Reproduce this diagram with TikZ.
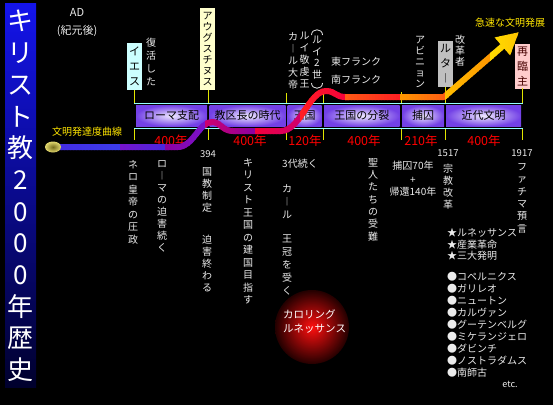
\documentclass[tikz,border=0pt]{standalone}
\usepackage{fontspec}
\setmainfont{Noto Sans CJK JP}
\usetikzlibrary{arrows.meta}
\definecolor{wt}{RGB}{235,235,235}
\definecolor{cyanbox}{RGB}{204,255,255}
\definecolor{yelbox}{RGB}{255,255,204}
\definecolor{graybox}{RGB}{192,192,192}
\definecolor{pinkbox}{RGB}{255,204,204}
\definecolor{tickyel}{RGB}{225,230,0}
\definecolor{rowline}{RGB}{150,255,255}
\definecolor{lbl}{RGB}{255,230,0}
\definecolor{k0}{RGB}{60,60,235}
\definecolor{k1}{RGB}{70,40,225}
\definecolor{k2}{RGB}{120,20,205}
\definecolor{k3}{RGB}{140,0,160}
\definecolor{k4}{RGB}{205,0,110}
\definecolor{k5}{RGB}{245,0,60}
\definecolor{k6}{RGB}{255,30,35}
\definecolor{k7}{RGB}{255,90,20}
\definecolor{k8}{RGB}{255,150,0}
\definecolor{k9}{RGB}{255,190,0}
\definecolor{k10}{RGB}{255,220,0}
\begin{document}
\begin{tikzpicture}[x=1pt,y=-1pt,
  vt/.style={align=center,inner sep=0pt,text=wt,anchor=north,font=\fontsize{10}{#1}\selectfont},
  vt/.default=12,
  ht/.style={inner sep=0pt,text=wt,font=\fontsize{10}{12}\selectfont},
  lbox/.style={align=center,inner sep=0pt,text=black,minimum width=15,font=\fontsize{#1}{15}\selectfont},
  rowbox/.style={inner sep=0pt,minimum height=21.5,outer color={rgb,255:red,115;green,65;blue,230},inner color={rgb,255:red,238;green,232;blue,255},text=black,font=\fontsize{11}{13}\selectfont},
  yrs/.style={inner sep=0pt,text=red,font=\fontsize{12.5}{14}\selectfont},
  yr/.style={inner sep=0pt,text=wt,font=\fontsize{9.5}{11}\selectfont},
  tick/.style={draw=tickyel,line width=1},
  curvep/.style={insert path={(55,147) -- (178,147) .. controls (193,147) and (199,122) .. (212,122) .. controls (221,122) and (222,131) .. (233,131) -- (281,131) .. controls (300,131) and (309,91) .. (326,91) .. controls (335,91) and (336,97) .. (345,97) -- (444,97) -- (519,32)}}
]
\useasboundingbox (0,0) rectangle (553,405);
\fill[black] (0,0) rectangle (553,405);

% title bar
\shade[top color={rgb,255:red,20;green,20;blue,235},bottom color={rgb,255:red,0;green,0;blue,45}] (5,3) rectangle (36,387);
\node[align=center,inner sep=0pt,text=white,font=\fontsize{26}{31.7}\selectfont] (title) at (20.5,196) {キ\\リ\\ス\\ト\\教\\2\\0\\0\\0\\年\\歴\\史};

\node[ht,font=\fontsize{11}{13}\selectfont] (ad) at (77,12) {AD};
\node[ht,font=\fontsize{11}{13}\selectfont] (kigen) at (77,31) {(紀元後)};

% upper labels
\node[lbox=11,fill=cyanbox,minimum height=47] (iesu) at (134.5,66.5) {イ\\エ\\ス};
\node[vt=13] (fukkatsu) at (151,38) {復\\活\\し\\た};
\node[lbox=10,fill=yelbox,minimum height=82,font=\fontsize{10}{11}\selectfont] (augu) at (207.5,49) {ア\\ウ\\グ\\ス\\チ\\ヌ\\ス};
\node[vt=12] (karl) at (293,32) {カ\\︱\\ル\\大\\帝};
\node[vt=12] (louis) at (304.5,32) {ル\\イ\\敬\\虔\\王};
\node[vt=11.5] (louis2) at (317,36) {ル\\イ\\2\\世};
\draw[wt,line width=0.8] (311.5,35) .. controls (311.5,28) and (322.5,28) .. (322.5,35);
\draw[wt,line width=0.8] (311.5,83) .. controls (311.5,90) and (322.5,90) .. (322.5,83);
\node[ht] (east) at (356,62) {東フランク};
\node[ht] (south) at (356,80) {南フランク};
\node[vt=11] (avignon) at (420,36) {ア\\ビ\\ニ\\ョ\\ン};
\node[lbox=11,fill=graybox,minimum height=46] (luther) at (445.5,64) {ル\\タ\\︱};
\node[vt=11] (kaikaku) at (460,35) {改\\革\\者};
\node[inner sep=0pt,text=lbl,font=\fontsize{10}{12}\selectfont] (rapid) at (510,23) {急速な文明発展};
\node[lbox=11,fill=pinkbox,minimum height=45,text={rgb,255:red,70;green,0;blue,0}] (sairin) at (522.5,66) {再\\臨\\主};

% ticks
\foreach \x/\t in {134/90,208/90,286/93,323/93,401/92,445.5/87,522.5/88}{
  \draw[tick] (\x,\t) -- (\x,103);
  \draw[tick] (\x,128) -- (\x,140);
}
\draw[rowline,line width=1] (134,103) -- (522.5,103);
\draw[rowline,line width=1] (134,128) -- (522.5,128);

% row boxes
\node[rowbox,minimum width=71] (rome) at (171.5,115.75) {ローマ支配};
\node[rowbox,minimum width=76] (bishop) at (247.5,115.75) {教区長の時代};
\node[rowbox,minimum width=34] (kingdom) at (304.5,115.75) {王国};
\node[rowbox,minimum width=75.5] (split) at (361.75,115.75) {王国の分裂};
\node[rowbox,minimum width=42] (captive) at (423,115.75) {捕囚};
\node[rowbox,minimum width=75] (modern) at (483.5,115.75) {近代文明};

% year spans
\node[yrs] (y1) at (171,141) {400年};
\node[yrs] (y2) at (250,141) {400年};
\node[yrs] (y3) at (305,141) {120年};
\node[yrs] (y4) at (364,141) {400年};
\node[yrs] (y5) at (421,141) {210年};
\node[yrs] (y6) at (484,141) {400年};
\node[yr] (d394) at (208,154) {394};
\node[yr] (d1517) at (448,153) {1517};
\node[yr] (d1917) at (522,153) {1917};

% glow
\shade[inner color={rgb,255:red,255;green,15;blue,15},outer color={rgb,255:red,35;green,0;blue,0}] (312,327) circle (37);
\node[ht,anchor=west,text=white,font=\fontsize{10.5}{12}\selectfont] (carol1) at (283,314) {カロリング};
\node[ht,anchor=west,text=white,font=\fontsize{10.5}{12}\selectfont] (carol2) at (283,329) {ルネッサンス};

% lower labels
\node[vt=12.5] (nero) at (133,160) {ネ\\ロ\\皇\\帝\\の\\圧\\政};
\node[vt=12] (persec) at (162,160) {ロ\\︱\\マ\\の\\迫\\害\\続\\く};
\node[vt=12] (kokkyo) at (207,167) {国\\教\\制\\定};
\node[vt=12] (owaru) at (207,235) {迫\\害\\終\\わ\\る};
\node[vt=12.5] (kenkoku) at (248,158) {キ\\リ\\ス\\ト\\王\\国\\の\\建\\国\\目\\指\\す};
\node[ht] (sandai) at (300,164) {3代続く};
\node[vt=13] (karl2) at (287,184) {カ\\︱\\ル};
\node[vt=13] (crown) at (287,235) {王\\冠\\を\\受\\く};
\node[vt=12.3] (saints) at (373,158) {聖\\人\\た\\ち\\の\\受\\難};
\node[ht] (hoshu) at (413,166) {捕囚70年};
\node[ht] (plus) at (413,180) {+};
\node[ht] (kikan) at (413,192) {帰還140年};
\node[vt=12] (reform) at (448,164) {宗\\教\\改\\革};
\node[vt=12.4] (fatima) at (522,163) {フ\\ァ\\チ\\マ\\預\\言};

\node[ht,anchor=west] (s1) at (447,233) {★ルネッサンス};
\node[ht,anchor=west] (s2) at (447,244.5) {★産業革命};
\node[ht,anchor=west] (s3) at (447,256) {★三大発明};
\foreach \t [count=\i from 0] in {コペルニクス,ガリレオ,ニュートン,カルヴァン,グーテンベルグ,ミケランジェロ,ダビンチ,ノストラダムス,南師古}{
  \node[ht,anchor=west] (b\i) at (447,277+12*\i) {●\t};
}
\node[ht,font=\fontsize{9}{11}\selectfont] (etc) at (510,384) {etc.};

% curve
\node[inner sep=0pt,text=lbl,font=\fontsize{10}{12}\selectfont] (curvelbl) at (87,132) {文明発達度曲線};
\foreach \xa/\xb/\ca/\cb in {40/120/k0/k1,120/165/k1/k2,165/205/k2/k3,205/255/k3/k4,255/300/k4/k5,300/345/k5/k6,345/400/k6/k7,400/445/k7/k8,445/490/k8/k9,490/526/k9/k10}{
  \pgfmathtruncatemacro\n{(\xb-\xa)/3}
  \foreach \i in {0,...,\n}{
    \pgfmathsetmacro\xx{\xa+\i*3}
    \pgfmathtruncatemacro\p{100-100*\i/\n}
    \begin{scope}
      \clip (\xx,0) rectangle (\xx+3.6,405);
      \draw[draw=\cb!\p!\ca,line width=6,line join=round,-{Triangle[length=22pt,width=22pt]},curvep];
    \end{scope}
  }
}
\shade[inner color={rgb,255:red,120;green,110;blue,30},outer color={rgb,255:red,225;green,215;blue,110}] (53,147) ellipse (8 and 5.5);
\end{tikzpicture}
\end{document}
